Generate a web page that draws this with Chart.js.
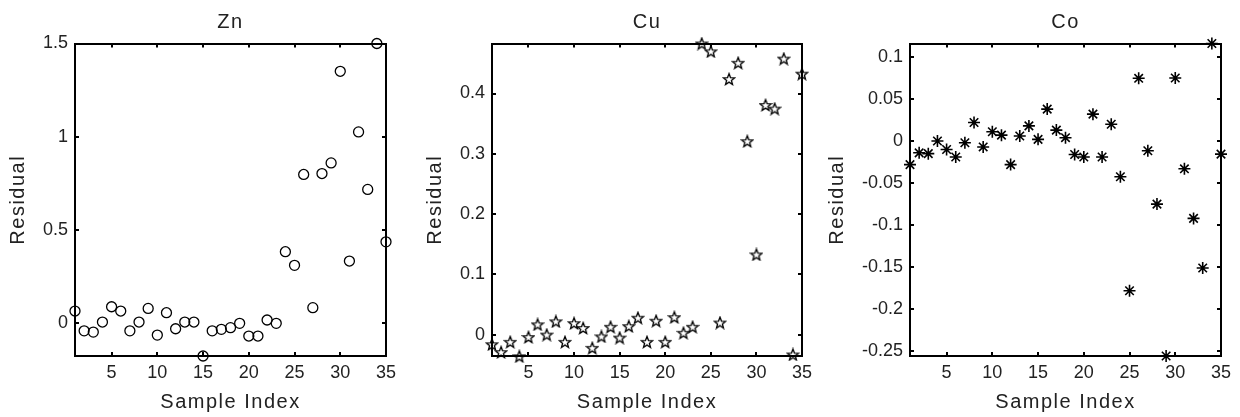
<!DOCTYPE html>
<html><head><meta charset="utf-8">
<script src="https://cdn.jsdelivr.net/npm/chart.js@4.4.1/dist/chart.umd.min.js"></script>
<style>
html,body{margin:0;padding:0;background:#fff;width:1240px;height:417px;overflow:hidden;position:relative}
.p{position:absolute;top:0;height:417px}
</style></head><body>
<div class="p" style="left:0px;width:461px"><canvas id="c0"></canvas></div>
<div class="p" style="left:420px;width:454px"><canvas id="c1"></canvas></div>
<div class="p" style="left:820px;width:491px"><canvas id="c2"></canvas></div>
<script>
// ---- data ----
const sampleIndex = [1,2,3,4,5,6,7,8,9,10,11,12,13,14,15,16,17,18,19,20,21,22,23,24,25,26,27,28,29,30,31,32,33,34,35];
const znResidual = [0.066,-0.040,-0.047,0.007,0.089,0.066,-0.040,0.007,0.080,-0.063,0.057,-0.029,0.007,0.007,-0.175,-0.040,-0.032,-0.023,0.000,-0.068,-0.068,0.018,0.000,0.384,0.311,0.798,0.084,0.803,0.860,1.351,0.334,1.026,0.718,1.500,0.437];
const cuResidual = [-0.016,-0.029,-0.012,-0.036,-0.004,0.017,0.000,0.022,-0.012,0.019,0.011,-0.022,-0.003,0.013,-0.005,0.014,0.028,-0.012,0.023,-0.012,0.029,0.003,0.013,0.483,0.470,0.020,0.424,0.451,0.321,0.133,0.381,0.375,0.458,-0.033,0.433];
const coResidual = [-0.028,-0.014,-0.015,0.000,-0.010,-0.019,-0.002,0.022,-0.007,0.011,0.007,-0.028,0.006,0.018,0.002,0.038,0.013,0.004,-0.016,-0.019,0.032,-0.019,0.020,-0.0425,-0.178,0.0746,-0.0115,-0.075,-0.2556,0.075,-0.033,-0.092,-0.151,0.116,-0.0155];
const xTicks = [5,10,15,20,25,30,35];
const znTicks = [0,0.5,1,1.5];
const cuTicks = [0,0.1,0.2,0.3,0.4];
const coTicks = [-0.25,-0.2,-0.15,-0.1,-0.05,0,0.05,0.1];
const xRange = [1,35];
const znRange = [-0.175,1.5];
const cuRange = [-0.0355,0.483];
const coRange = [-0.2556,0.116];

// ---- styling ----
const FAM = '"Liberation Sans", Arial, Helvetica, sans-serif';
const TXT = '#222';
Chart.defaults.font.family = FAM;

// wider letter spacing for titles (as in the reference rendering)
const spacingPlugin = {
  id:'titleSpacing',
  afterUpdate(chart){
    const wrap = (obj, name) => {
      if (!obj || obj['_sp_'+name]) return;
      const orig = obj[name].bind(obj);
      obj[name] = function(...a){
        const c = chart.ctx; const prev = c.letterSpacing;
        c.letterSpacing = '1.5px'; const r = orig(...a); c.letterSpacing = prev || '0px'; return r;
      };
      obj['_sp_'+name] = true;
    };
    Object.values(chart.scales).forEach(s => wrap(s,'drawTitle'));
    wrap(chart.titleBlock,'draw');
  }
};

function pentagram(size){
  const c=document.createElement('canvas'); c.width=c.height=size;
  const ctx=c.getContext('2d'); const cx=size/2, cy=size/2+0.6;
  const r=size/2-1, ri=r*0.42;
  ctx.beginPath();
  for(let i=0;i<10;i++){const a=-Math.PI/2+i*Math.PI/5; const rr=i%2?ri:r; ctx.lineTo(cx+rr*Math.cos(a), cy+rr*Math.sin(a));}
  ctx.closePath(); ctx.lineWidth=1.3; ctx.strokeStyle='#000'; ctx.stroke();
  return c;
}

function pts(ys){ return sampleIndex.map((x,i)=>({x:x,y:ys[i]})); }

function makeChart(id, title, ys, yRange, yTicksArr, yW, y2W, ytPad, ds){
  const tickSet = arr => (s => { s.ticks = arr.map(v=>({value:v})); });
  const grid = {drawOnChartArea:false, drawTicks:true, tickLength:-4, lineWidth:2, color:'#000'};
  const border = {display:true, width:2, color:'#000'};
  const tickFont = {family:FAM, size:18};
  const titleFont = {family:FAM, size:20};
  new Chart(document.getElementById(id), {
    type:'scatter',
    data:{datasets:[Object.assign({data:pts(ys), clip:false, borderColor:'#000', showLine:false}, ds)]},
    options:{
      responsive:true, maintainAspectRatio:false, animation:false,
      layout:{padding:0},
      plugins:{
        legend:{display:false}, tooltip:{enabled:false},
        title:{display:true, text:title, color:TXT, font:{family:FAM,size:20,weight:'normal'}, padding:{top:10,bottom:9.5}}
      },
      scales:{
        x:{type:'linear', position:'bottom', min:xRange[0], max:xRange[1],
           afterBuildTicks:tickSet(xTicks), afterFit:s=>{s.height=61;},
           grid:grid, border:border,
           ticks:{padding:10.2, color:TXT, font:tickFont, autoSkip:false, maxRotation:0, callback:v=>String(v)},
           title:{display:true, text:'Sample Index', color:TXT, font:titleFont, padding:{top:0,bottom:3}}},
        x2:{type:'linear', position:'top', min:xRange[0], max:xRange[1],
           afterBuildTicks:tickSet(xTicks), afterFit:s=>{s.height=0;},
           grid:grid, border:border, ticks:{display:false}},
        y:{type:'linear', position:'left', min:yRange[0], max:yRange[1],
           afterBuildTicks:tickSet(yTicksArr), afterFit:s=>{s.width=yW;},
           grid:grid, border:border,
           ticks:{padding:11, color:TXT, font:tickFont, autoSkip:false, callback:v=>String(v)},
           title:{display:true, text:'Residual', color:TXT, font:titleFont, padding:{top:ytPad,bottom:0}}},
        y2:{type:'linear', position:'right', min:yRange[0], max:yRange[1],
           afterBuildTicks:tickSet(yTicksArr), afterFit:s=>{s.width=y2W;},
           grid:grid, border:border, ticks:{display:false}}
      }
    },
    plugins:[spacingPlugin]
  });
}

makeChart('c0','Zn',znResidual,znRange,znTicks,75,75,6.5,
  {pointStyle:'circle', pointRadius:5, borderWidth:1.3, backgroundColor:'rgba(0,0,0,0)'});
makeChart('c1','Cu',cuResidual,cuRange,cuTicks,72,72,3.5,
  {pointStyle:pentagram(14), pointRadius:7, borderWidth:1, backgroundColor:'rgba(0,0,0,0)'});
makeChart('c2','Co',coResidual,coRange,coTicks,90,90,5.5,
  {pointStyle:'star', pointRadius:6, borderWidth:1.6, backgroundColor:'#000'});
</script>
</body></html>
